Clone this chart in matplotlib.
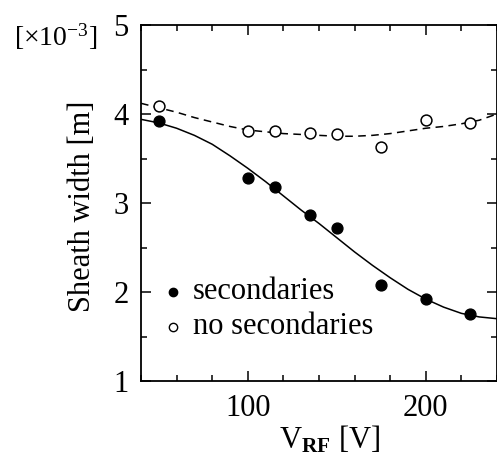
import matplotlib
matplotlib.use("Agg")
import matplotlib.pyplot as plt
from matplotlib.ticker import MultipleLocator

plt.rcParams['font.family'] = ['Liberation Serif', 'DejaVu Serif']
plt.rcParams['mathtext.fontset'] = 'custom'
plt.rcParams['mathtext.rm'] = 'Liberation Serif'
plt.rcParams['mathtext.it'] = 'Liberation Serif:italic'
plt.rcParams['mathtext.bf'] = 'Liberation Serif:bold'

# measured points
v_rf = [50, 100, 115, 135, 150, 175, 200, 225]
sec = [3.92, 3.28, 3.18, 2.87, 2.72, 2.08, 1.92, 1.75]
nosec = [4.09, 3.81, 3.81, 3.79, 3.78, 3.63, 3.93, 3.90]

# fitted curves
curve_x = [40, 50, 60, 70, 80, 90, 100, 110, 120, 130, 140, 150, 160, 170,
           180, 190, 200, 210, 220, 230, 240]
curve_sec = [3.94, 3.90, 3.84, 3.76, 3.66, 3.53, 3.39, 3.24, 3.08, 2.92, 2.77,
             2.61, 2.45, 2.30, 2.16, 2.03, 1.92, 1.83, 1.76, 1.72, 1.70]
curve_nosec = [4.12, 4.07, 4.02, 3.96, 3.91, 3.86, 3.82, 3.80, 3.78, 3.77, 3.76,
               3.75, 3.75, 3.76, 3.78, 3.81, 3.84, 3.86, 3.89, 3.93, 4.00]

FS = 22

fig = plt.figure(figsize=(4.97, 4.59), dpi=100)
ax = fig.add_axes([141/497, 78/459, 356/497, 356/459])

ax.plot(curve_x, curve_sec, '-', color='black', lw=1.1)
ax.plot(curve_x, curve_nosec, '--', color='black', lw=1.1, dashes=(5, 3.5))
ax.plot(v_rf, sec, 'o', color='black', ms=7.8, ls='none')
ax.plot(v_rf, nosec, 'o', mfc='white', mec='black', mew=1.1, ms=7.8, ls='none')

ax.set_xlim(40, 240)
ax.set_ylim(1, 5)
ax.xaxis.set_major_locator(MultipleLocator(100))
ax.xaxis.set_minor_locator(MultipleLocator(20))
ax.yaxis.set_major_locator(MultipleLocator(1))
ax.yaxis.set_minor_locator(MultipleLocator(0.5))
ax.tick_params(which='both', direction='in', top=True, right=True, width=1.1,
               labelsize=FS)
ax.tick_params(which='major', length=7)
ax.tick_params(which='minor', length=4)
ax.tick_params(axis='x', pad=9)
ax.tick_params(axis='y', pad=9)
for s in ax.spines.values():
    s.set_linewidth(1.3)

ax.set_xticks([100, 200])
ax.set_xticklabels(['100', '200'])

ax.set_ylabel('Sheath width [m]', fontsize=FS)
ax.yaxis.set_label_coords(-0.125, 0.49)
ax.set_xlabel(r'V$_{\mathbf{RF}}$ [V]', fontsize=FS)
ax.xaxis.set_label_coords(0.53, -0.12)

fig.text(14/497, 1 - 46/459, r'[×10$^{\mathregular{-3}}$]', fontsize=20,
         ha='left', va='baseline')

# legend
ax.plot([0.09], [0.251], 'o', color='black', ms=6, transform=ax.transAxes,
        clip_on=False)
ax.plot([0.09], [0.152], 'o', mfc='white', mec='black', mew=1.0, ms=6,
        transform=ax.transAxes, clip_on=False)
ax.text(0.145, 0.251, 'secondaries', fontsize=FS, transform=ax.transAxes,
        va='center', ha='left')
ax.text(0.145, 0.152, 'no secondaries', fontsize=FS, transform=ax.transAxes,
        va='center', ha='left')

fig.savefig('out.png', dpi=100)
